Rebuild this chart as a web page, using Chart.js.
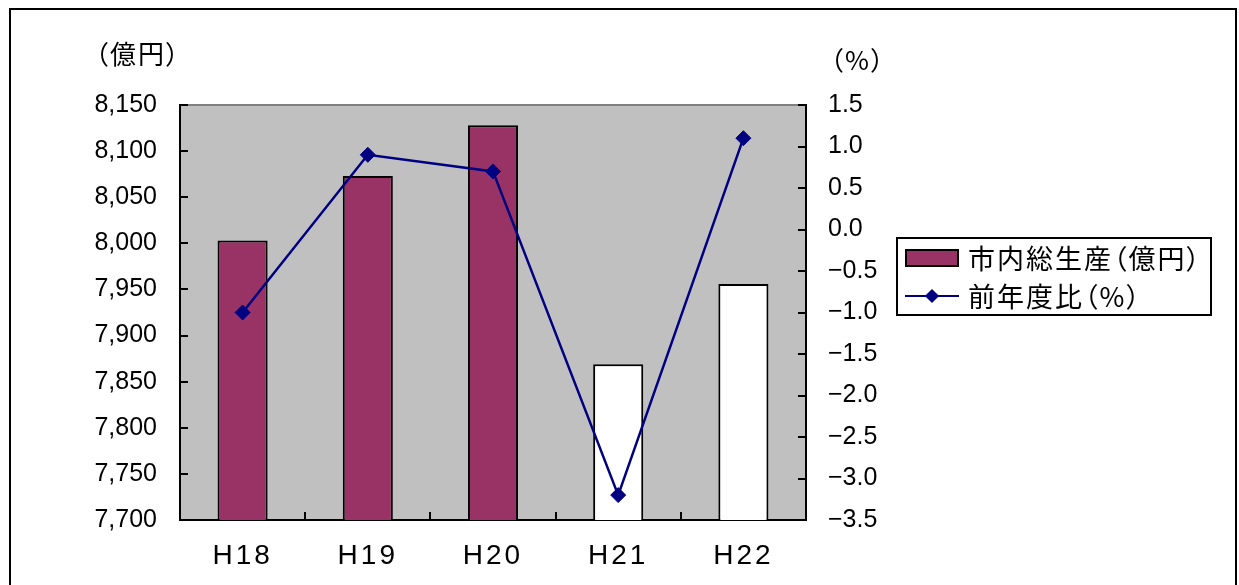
<!DOCTYPE html>
<html>
<head>
<meta charset="utf-8">
<script src="https://cdn.jsdelivr.net/npm/chart.js@4.4.1/dist/chart.umd.min.js"></script>
<style>
  html, body { margin: 0; padding: 0; background: #fff; overflow: hidden; }
  #wrap { position: relative; width: 1239px; height: 585px; overflow: hidden; }
  #chart { position: absolute; left: 0; top: 0; }
  .frame { position: absolute; left: 9px; top: 8px; width: 1228px; height: 620px; border: 2px solid #000; box-sizing: border-box; pointer-events: none; }
  .jp { font-family: "Noto Sans CJK JP", sans-serif; color: #000; letter-spacing: 2px; white-space: nowrap; }
  .p { font-feature-settings: "palt"; }
  .unit { position: absolute; font-size: 26px; line-height: 30px; }
  #legend { position: absolute; left: 896px; top: 237px; width: 316px; height: 79px; border: 2px solid #000; box-sizing: border-box; background: #fff; }
  .row { position: absolute; left: 0; height: 38px; width: 100%; }
  .row .txt { position: absolute; left: 70px; top: 0; font-size: 27px; line-height: 38px; }
  .sw-bar { position: absolute; left: 7px; top: 10px; width: 54px; height: 18px; border: 2px solid #000; box-sizing: border-box; }
  .sw-line { position: absolute; left: 7px; top: 18px; width: 54px; height: 2px; }
  .sw-dot { position: absolute; left: 29px; top: 14px; width: 10px; height: 10px; transform: rotate(45deg); }
</style>
</head>
<body>
<div id="wrap">
  <canvas id="chart" width="1239" height="585"></canvas>
  <div class="frame"></div>
  <div class="unit jp" id="unitLeft" style="left:95px;top:38px"></div>
  <div class="unit jp" id="unitRight" style="left:830px;top:44px"></div>
  <div id="legend"></div>
</div>
<script>
const years = ['H18', 'H19', 'H20', 'H21', 'H22'];
const gdp = [8003, 8073, 8128, 7869, 7956];
const growth = [-1.0, 0.9, 0.7, -3.2, 1.1];
const seriesNames = ['市内総生産（億円）', '前年度比（%）'];
const unitLabels = ['（億円）', '（%）'];
const gdpAxis = [7700, 8150, 50];
const growthAxis = [-3.5, 1.5, 0.5];

const MAROON = '#993366';
const NAVY = '#000080';

function $(sel){return document.querySelector(sel)}
function jpHtml(t){return t.replace(/（/g,'<span class="p">（</span>').replace(/）/g,'<span class="p">）</span>')}

$('#unitLeft').innerHTML = jpHtml(unitLabels[0]);
$('#unitRight').innerHTML = jpHtml(unitLabels[1]);
$('#legend').innerHTML =
  `<div class="row" style="top:0"><div class="sw-bar" style="background:${MAROON}"></div><div class="txt jp">${jpHtml(seriesNames[0])}</div></div>` +
  `<div class="row" style="top:38px"><div class="sw-line" style="background:${NAVY}"></div><div class="sw-dot" style="background:${NAVY}"></div><div class="txt jp">${jpHtml(seriesNames[1])}</div></div>`;

const plotDecor = {
  id: 'plotDecor',
  beforeDraw(chart){
    const {ctx, chartArea:a} = chart;
    ctx.save();
    ctx.fillStyle = '#C0C0C0';
    ctx.fillRect(a.left, a.top, a.right - a.left, a.bottom - a.top);
    ctx.strokeStyle = '#808080';
    ctx.lineWidth = 2;
    ctx.beginPath(); ctx.moveTo(a.left, a.top); ctx.lineTo(a.right, a.top); ctx.stroke();
    ctx.restore();
  },
  afterLayout(chart){
    const s = chart.scales.x;
    if (s._spaced) return;
    const orig = s.drawLabels;
    s.drawLabels = function(area){
      this.ctx.save(); this.ctx.letterSpacing = '3px';
      orig.call(this, area);
      this.ctx.restore();
    };
    s._spaced = true;
  },
  afterDraw(chart){
    const {ctx, chartArea:a, scales} = chart;
    const len = 8;
    ctx.save();
    ctx.strokeStyle = '#000';
    ctx.lineWidth = 2;
    ctx.beginPath();
    scales.y.ticks.forEach(t => {
      const y = Math.round(scales.y.getPixelForValue(t.value));
      ctx.moveTo(a.left, y); ctx.lineTo(a.left + len, y);
    });
    scales.y1.ticks.forEach(t => {
      const y = Math.round(scales.y1.getPixelForValue(t.value));
      ctx.moveTo(a.right, y); ctx.lineTo(a.right - len, y);
    });
    const half = (scales.x.getPixelForValue(1) - scales.x.getPixelForValue(0)) / 2;
    for (let i = 1; i < years.length; i++){
      const x = Math.round(scales.x.getPixelForValue(i) - half);
      ctx.moveTo(x, a.bottom); ctx.lineTo(x, a.bottom - len);
    }
    ctx.stroke();
    ctx.restore();
  }
};

const tickFont = {family: '"Liberation Sans", Arial, sans-serif', size: 25};

new Chart($('#chart').getContext('2d'), {
  type: 'bar',
  data: {
    labels: years,
    datasets: [
      {
        type: 'line', label: seriesNames[1], data: growth, yAxisID: 'y1', order: 0,
        borderColor: NAVY, borderWidth: 2.5, tension: 0,
        pointStyle: 'rectRot', pointRadius: 7.5, pointBackgroundColor: NAVY, pointBorderColor: NAVY, pointBorderWidth: 1
      },
      {
        type: 'bar', label: seriesNames[0], data: gdp, yAxisID: 'y', order: 1,
        backgroundColor: ctx => ctx.dataIndex < 3 ? MAROON : '#FFFFFF',
        borderColor: '#000', borderWidth: 2, borderSkipped: false,
        barPercentage: 0.4, categoryPercentage: 1
      }
    ]
  },
  options: {
    responsive: false,
    animation: false,
    layout: {padding: {top: 105, left: 0, right: 0, bottom: 0}},
    plugins: {legend: {display: false}, tooltip: {enabled: false}},
    scales: {
      x: {
        grid: {display: false, drawTicks: false},
        border: {color: '#000', width: 2},
        ticks: {color: '#000', font: {family: '"Liberation Sans", Arial, sans-serif', size: 28}, padding: 19, maxRotation: 0},
        afterFit: s => { s.height = 65; }
      },
      y: {
        position: 'left', min: gdpAxis[0], max: gdpAxis[1],
        grid: {display: false, drawTicks: false},
        border: {color: '#000', width: 2},
        ticks: {stepSize: gdpAxis[2], color: '#000', font: tickFont, padding: 23,
          callback: v => v.toLocaleString('en-US')},
        afterFit: s => { s.width = 180; }
      },
      y1: {
        position: 'right', min: growthAxis[0], max: growthAxis[1],
        grid: {display: false, drawTicks: false},
        border: {color: '#000', width: 2},
        ticks: {stepSize: growthAxis[2], color: '#000', font: tickFont, padding: 22,
          callback: v => v.toFixed(1).replace('-', '−')},
        afterFit: s => { s.width = 433; }
      }
    }
  },
  plugins: [plotDecor]
});
</script>
</body>
</html>
